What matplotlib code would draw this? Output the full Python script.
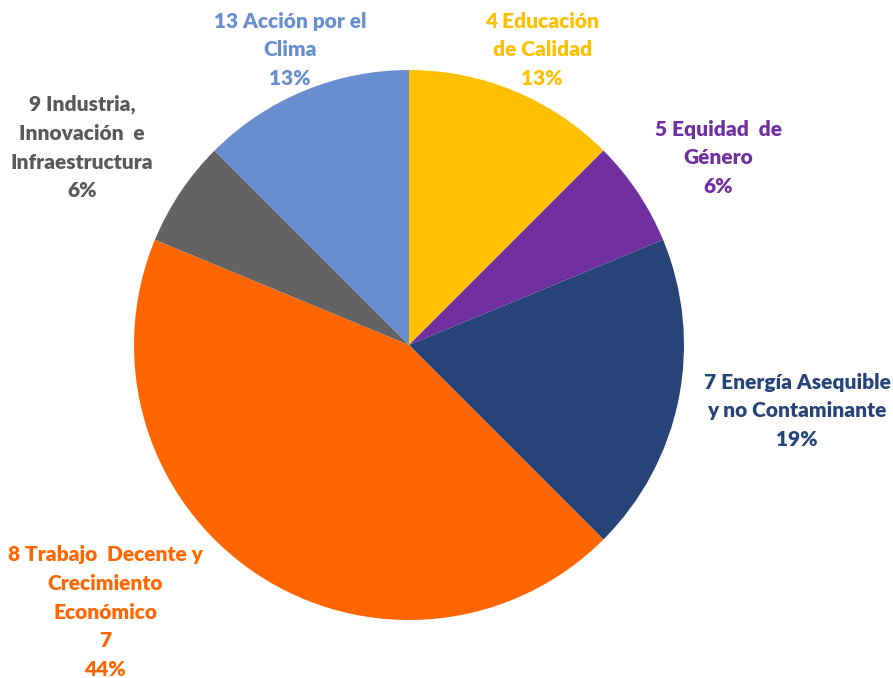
import matplotlib
matplotlib.use("Agg")
import matplotlib.pyplot as plt

categories = ["4 Educación\nde Calidad", "5 Equidad  de\nGénero", "7 Energía Asequible\ny no Contaminante",
              "8 Trabajo  Decente y\nCrecimiento\nEconómico\n7", "9 Industria,\nInnovación  e\nInfraestructura",
              "13 Acción por el\nClima"]
values = [2, 1, 3, 7, 1, 2]
colors = ["#FFC000", "#7030A0", "#264478", "#FF6600", "#636363", "#698ED0"]
text_colors = ["#FFC000", "#7030A0", "#264478", "#FF6600", "#595959", "#698ED0"]
label_pos = [(0.484, 1.073), (1.124, 0.68), (1.411, -0.24), (-1.105, -0.971), (-1.189, 0.718), (-0.433, 1.073)]

fig = plt.figure(figsize=(8.93, 6.78), dpi=100)
ax = fig.add_axes([134/893, 58/678, 550/893, 550/678])
ax.pie(values, colors=colors, startangle=90, counterclock=False, radius=1.0,
       wedgeprops=dict(linewidth=0))
ax.set_xlim(-1, 1)
ax.set_ylim(-1, 1)
ax.set_aspect("equal")
ax.axis("off")

total = sum(values)
for cat, v, c, (x, y) in zip(categories, values, text_colors, label_pos):
    pct = int(100 * v / total + 0.5)
    ax.text(x, y, f"{cat}\n{pct}%", ha="center", va="center", color=c,
            fontsize=15, fontweight="heavy", family="Lato", linespacing=1.6)

fig.savefig("out.png", dpi=100)
